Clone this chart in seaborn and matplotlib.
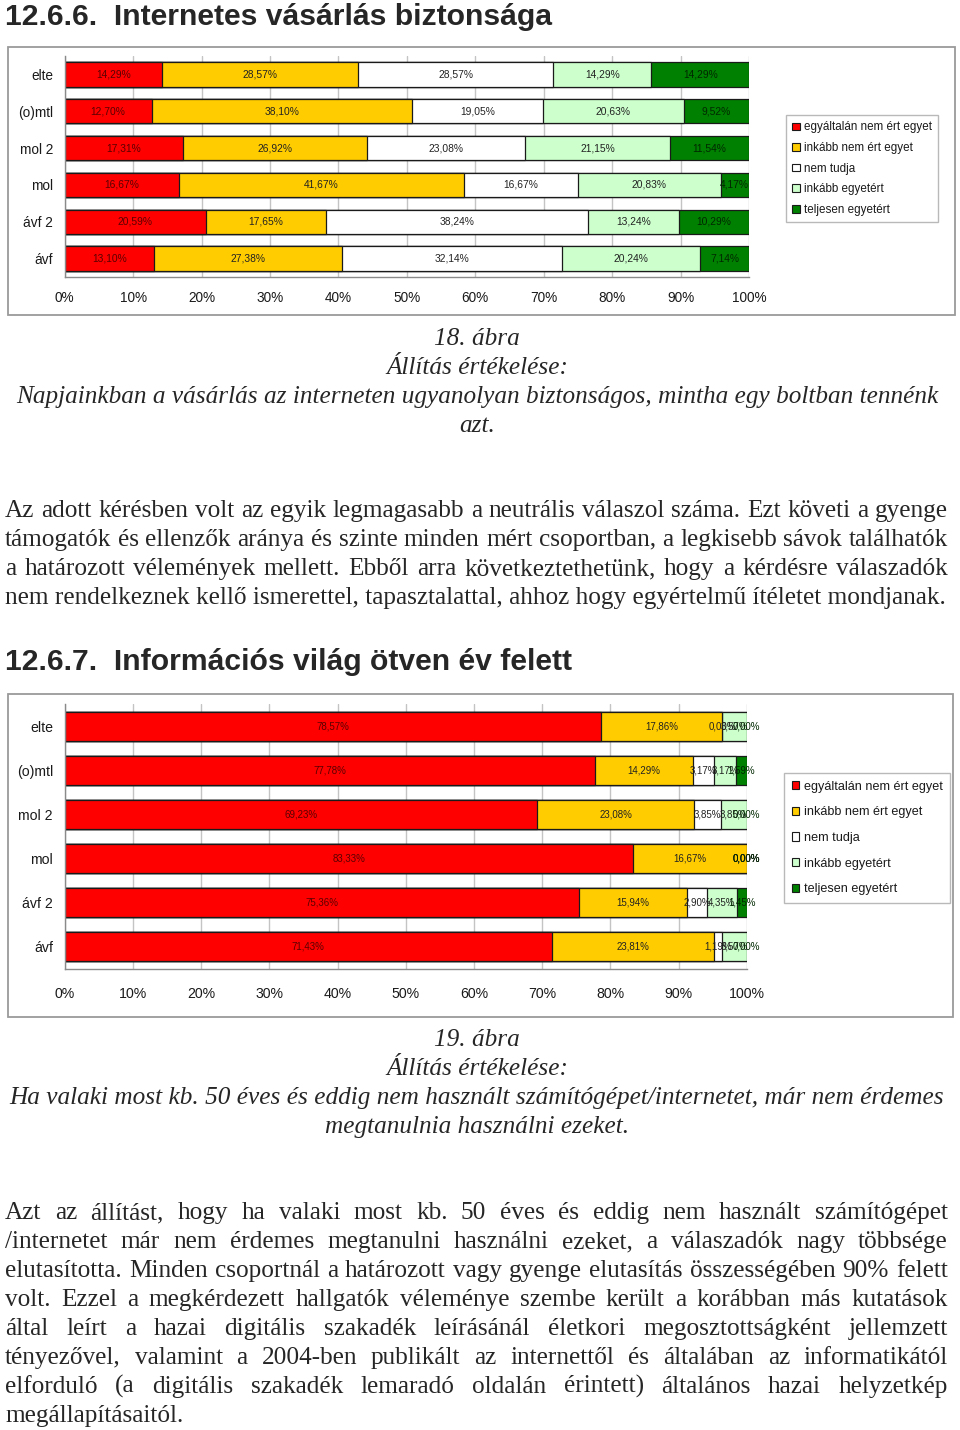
import numpy as np
import pandas as pd
import matplotlib
matplotlib.use("Agg")
import matplotlib.pyplot as plt
import seaborn as sns
from matplotlib.patches import Patch, Rectangle
from matplotlib import font_manager as fm

# ---------------- data ----------------
groups = ["elte", "(o)mtl", "mol 2", "mol", "ávf 2", "ávf"]
answers = ["egyáltalán nem ért egyet", "inkább nem ért egyet", "nem tudja",
           "inkább egyetért", "teljesen egyetért"]

# Chart 18: Napjainkban a vásárlás az interneten ...
c1_egyaltalan_nem = [14.29, 12.70, 17.31, 16.67, 20.59, 13.10]
c1_inkabb_nem = [28.57, 38.10, 26.92, 41.67, 17.65, 27.38]
c1_nem_tudja = [28.57, 19.05, 23.08, 16.67, 38.24, 32.14]
c1_inkabb_egyet = [14.29, 20.63, 21.15, 20.83, 13.24, 20.24]
c1_teljesen = [14.29, 9.52, 11.54, 4.17, 10.29, 7.14]

# Chart 19: Ha valaki most kb. 50 éves ...
c2_egyaltalan_nem = [78.57, 77.78, 69.23, 83.33, 75.36, 71.43]
c2_inkabb_nem = [17.86, 14.29, 23.08, 16.67, 15.94, 23.81]
c2_nem_tudja = [0.00, 3.17, 3.85, 0.00, 2.90, 1.19]
c2_inkabb_egyet = [3.57, 3.17, 3.85, 0.00, 4.35, 3.57]
c2_teljesen = [0.00, 1.59, 0.00, 0.00, 1.45, 0.00]

x_ticks = [0, 10, 20, 30, 40, 50, 60, 70, 80, 90, 100]
x_tick_labels = ["0%", "10%", "20%", "30%", "40%", "50%", "60%", "70%", "80%", "90%", "100%"]

heading1 = "12.6.6.  Internetes vásárlás biztonsága"
heading2 = "12.6.7.  Információs világ ötven év felett"
caption1 = ["18. ábra", "Állítás értékelése:",
            "Napjainkban a vásárlás az interneten ugyanolyan biztonságos, mintha egy boltban tennénk",
            "azt."]
caption2 = ["19. ábra", "Állítás értékelése:",
            "Ha valaki most kb. 50 éves és eddig nem használt számítógépet/internetet, már nem érdemes",
            "megtanulnia használni ezeket."]
para1 = ["Az adott kérésben volt az egyik legmagasabb a neutrális válaszol száma. Ezt követi a gyenge",
         "támogatók és ellenzők aránya és szinte minden mért csoportban, a legkisebb sávok találhatók",
         "a határozott vélemények mellett. Ebből arra következtethetünk, hogy a kérdésre válaszadók",
         "nem rendelkeznek kellő ismerettel, tapasztalattal, ahhoz hogy egyértelmű ítéletet mondjanak."]
para2 = ["Azt az állítást, hogy ha valaki most kb. 50 éves és eddig nem használt számítógépet",
         "/internetet már nem érdemes megtanulni használni ezeket, a válaszadók nagy többsége",
         "elutasította. Minden csoportnál a határozott vagy gyenge elutasítás összességében 90% felett",
         "volt. Ezzel a megkérdezett hallgatók véleménye szembe került a korábban más kutatások",
         "által leírt a hazai digitális szakadék leírásánál életkori megosztottságként jellemzett",
         "tényezővel, valamint a 2004-ben publikált az internettől és általában az informatikától",
         "elforduló (a digitális szakadék lemaradó oldalán érintett) általános hazai helyzetkép",
         "megállapításaitól."]

# ---------------- style ----------------
colors = ["#FF0000", "#FFCC00", "#FFFFFF", "#CCFFCC", "#008000"]
label_colors = ["#5a0000", "#222222", "#222222", "#222222", "#002800"]

sns.set_style("white")


def has_font(name):
    try:
        fm.findfont(fm.FontProperties(family=name), fallback_to_default=False)
        return True
    except Exception:
        return False


SANS = "Liberation Sans"
NARROW = "Liberation Sans Narrow" if has_font("Liberation Sans Narrow") else "Liberation Sans"
SERIF = "Liberation Serif"
plt.rcParams["font.family"] = [SANS, "DejaVu Sans"]

W, H = 960, 1430
fig = plt.figure(figsize=(W / 100, H / 100), dpi=100)
fig.patch.set_facecolor("white")
renderer = fig.canvas.get_renderer()


def fx(x):
    return x / W


def fy(y):
    return 1 - y / H


def measure(s, size, **kw):
    t = fig.text(0, 0, s, fontsize=size, **kw)
    w = t.get_window_extent(renderer).width
    t.remove()
    return w


def stacked_chart(rect, series, lab_size, lab_family, tick_size, tick_family, xpad, ypad):
    left, top, right, bottom = rect
    ax = fig.add_axes([fx(left), fy(bottom), fx(right) - fx(left), (bottom - top) / H])
    arr = np.array(series, dtype=float)
    cum = np.cumsum(arr, axis=0)
    for i in reversed(range(len(answers))):
        d = pd.DataFrame({"group": groups, "value": cum[i]})
        sns.barplot(data=d, x="value", y="group", orient="h", color=colors[i],
                    saturation=1, edgecolor="#1a1a1a", linewidth=0.9, width=0.66,
                    ax=ax, errorbar=None)
    for i in range(len(answers)):
        for j in range(len(groups)):
            v = arr[i, j]
            ax.text(cum[i, j] - v / 2, j, f"{v:.2f}%".replace(".", ","), ha="center",
                    va="center", fontsize=lab_size, family=lab_family, color=label_colors[i],
                    zorder=10)
    ax.set_xlim(0, 100)
    ax.set_ylim(len(groups) - 0.5, -0.5)
    ax.set_xticks(x_ticks)
    ax.set_xticklabels(x_tick_labels)
    ax.set_xlabel("")
    ax.set_ylabel("")
    ax.set_axisbelow(True)
    ax.xaxis.grid(True, color="#c4c4c4", linewidth=1.0)
    ax.yaxis.grid(False)
    for s in ["top", "right"]:
        ax.spines[s].set_visible(False)
    for s in ["left", "bottom"]:
        ax.spines[s].set_color("#8a8a8a")
        ax.spines[s].set_linewidth(1.0)
    ax.set_yticks(np.arange(-0.5, len(groups), 1.0), minor=True)
    ax.tick_params(axis="y", which="major", length=0, pad=ypad, labelsize=tick_size,
                   labelcolor="#1a1a1a")
    ax.tick_params(axis="y", which="minor", length=4, color="#8a8a8a", width=1)
    ax.tick_params(axis="x", which="major", length=4, color="#8a8a8a", width=1, pad=xpad,
                   labelsize=tick_size, labelcolor="#1a1a1a")
    for t in ax.get_xticklabels() + ax.get_yticklabels():
        t.set_family(tick_family)
    ax.set_facecolor("white")
    return ax


def legend_at(x, y, size, family, spacing, bpad):
    handles = [Patch(facecolor=c, edgecolor="#1a1a1a", linewidth=0.8) for c in colors]
    leg = fig.legend(handles, answers, loc="upper left", bbox_to_anchor=(fx(x), fy(y)),
                     bbox_transform=fig.transFigure, frameon=True, fancybox=False,
                     edgecolor="#a8a8a8", handlelength=0.62, handleheight=0.62,
                     handletextpad=0.35, labelspacing=spacing, borderpad=bpad,
                     borderaxespad=0, prop={"family": family, "size": size})
    leg.get_frame().set_linewidth(1.0)
    for t in leg.get_texts():
        t.set_color("#1a1a1a")
    return leg


def border(x0, y0, x1, y1):
    fig.patches.append(Rectangle((fx(x0), fy(y1)), fx(x1) - fx(x0), (y1 - y0) / H,
                                 transform=fig.transFigure, fill=False,
                                 edgecolor="#9a9a9a", linewidth=1.3))


# ---------------- chart 18 ----------------
border(8, 47, 955, 315)
stacked_chart((64.7, 56, 749, 277),
              [c1_egyaltalan_nem, c1_inkabb_nem, c1_nem_tudja, c1_inkabb_egyet, c1_teljesen],
              7.4, SANS, 9.8, SANS, 6, 8.5)
legend_at(786, 115, 8.4, SANS, 0.74, 0.55)

# ---------------- chart 19 ----------------
border(8, 694, 953, 1017)
narrow_ok = NARROW != SANS
stacked_chart((64.7, 704, 746.7, 969),
              [c2_egyaltalan_nem, c2_inkabb_nem, c2_nem_tudja, c2_inkabb_egyet, c2_teljesen],
              7.6 if narrow_ok else 7.0, NARROW,
              11 if narrow_ok else 10.2, NARROW, 9, 8.5)
legend_at(784, 773, 10.8 if narrow_ok else 9.1, NARROW, 0.5 if narrow_ok else 1.08, 0.6)

# ---------------- headings ----------------
head_family = [NARROW, SANS]
hsize = 20 * (553 - 5) / measure(heading1, 20, family=head_family, weight="bold")
fig.text(fx(5), fy(25), heading1, fontsize=hsize, family=head_family, weight="bold",
         va="baseline", ha="left")
fig.text(fx(5), fy(670), heading2, fontsize=hsize, family=head_family, weight="bold",
         va="baseline", ha="left")

# ---------------- captions ----------------
csize = 20 * 920 / measure(caption1[2], 20, family=SERIF, style="italic")
for k, line in enumerate(caption1):
    fig.text(fx(477), fy(345 + 29 * k), line, fontsize=csize, family=SERIF, style="italic",
             ha="center", va="baseline")
for k, line in enumerate(caption2):
    fig.text(fx(477), fy(1046 + 29 * k), line, fontsize=csize, family=SERIF, style="italic",
             ha="center", va="baseline")


# ---------------- paragraphs (justified) ----------------
def paragraph(lines, x0, x1, y0, step, size):
    for k, line in enumerate(lines):
        yb = fy(y0 + step * k)
        if k == len(lines) - 1:
            fig.text(fx(x0), yb, line, fontsize=size, family=SERIF, ha="left", va="baseline")
            continue
        words = line.split()
        widths = [measure(w, size, family=SERIF) for w in words]
        gap = (x1 - x0 - sum(widths)) / (len(words) - 1)
        x = x0
        for w, wd in zip(words, widths):
            fig.text(fx(x), yb, w, fontsize=size, family=SERIF, ha="left", va="baseline")
            x += wd + gap


all_lines = para1[:-1] + para2[:-1]
natural = max(measure(l, 20, family=SERIF) / (948 - 5) for l in all_lines)
psize = 20 / natural
paragraph(para1, 5, 948, 517, 29, psize)
paragraph(para2, 5, 948, 1219, 29, psize)

fig.savefig("out.png", dpi=100, facecolor="white")
